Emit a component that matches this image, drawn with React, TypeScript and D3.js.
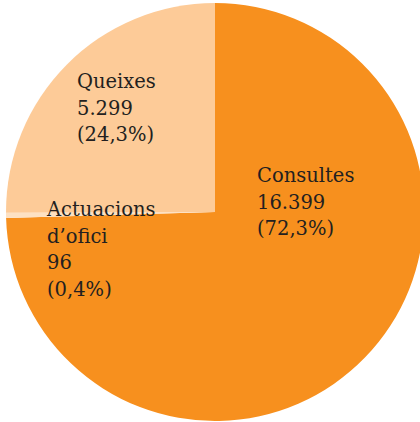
import React from "react";
import * as d3 from "d3";

const categories = ["Consultes", "Actuacions d’ofici", "Queixes"];
const shares = [72.3, 0.4, 24.3];
const counts = ["16.399", "96", "5.299"];
const shareLabels = ["(72,3%)", "(0,4%)", "(24,3%)"];
const colors = ["#F7901E", "#FDE1C3", "#FDCB98"];

const labelLines: string[][] = [
  [categories[0], counts[0], shareLabels[0]],
  ["Actuacions", "d’ofici", counts[1], shareLabels[1]],
  [categories[2], counts[2], shareLabels[2]],
];
const labelPos = [
  { x: 257, y: 182 },
  { x: 47, y: 216 },
  { x: 77, y: 88 },
];

export default function App() {
  const W = 420, H = 422;
  const cx = 215, cy = 212, r = 209;
  const pie = d3.pie<number>().sort(null).value((d) => d);
  const arcs = pie(shares);
  const arc = d3.arc<d3.PieArcDatum<number>>().innerRadius(0).outerRadius(r);
  return (
    <svg width={W} height={H} style={{ position: "absolute", left: 0, top: 0 }}>
      <rect width={W} height={H} fill="#fff" />
      <g transform={`translate(${cx},${cy})`}>
        {arcs.map((a, i) => (
          <path key={i} d={arc(a) || ""} fill={colors[i]} />
        ))}
      </g>
      {labelLines.map((lines, i) => (
        <text key={i} fontFamily="DejaVu Serif" fontSize={19.5} fill="#231F20">
          {lines.map((l, j) => (
            <tspan key={j} x={labelPos[i].x} y={labelPos[i].y + j * 26.5}>
              {l}
            </tspan>
          ))}
        </text>
      ))}
    </svg>
  );
}
